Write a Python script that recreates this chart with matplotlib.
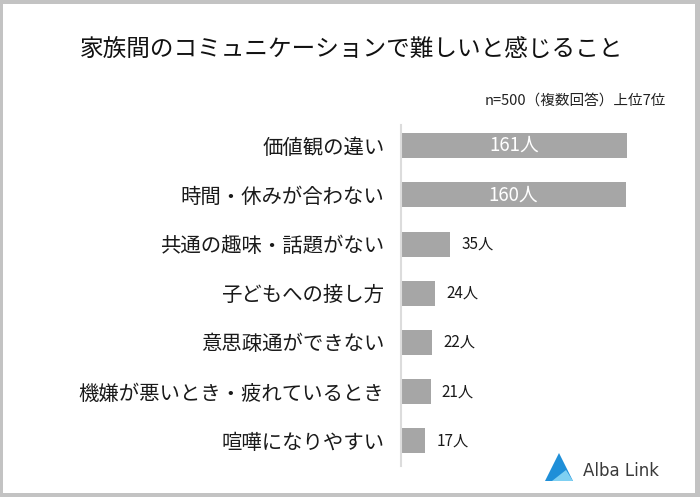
import matplotlib.pyplot as plt
from matplotlib.patches import Rectangle, Polygon

plt.rcParams['font.family'] = ['Noto Sans CJK JP', 'DejaVu Sans']

categories = ['価値観の違い', '時間・休みが合わない', '共通の趣味・話題がない', '子どもへの接し方',
              '意思疎通ができない', '機嫌が悪いとき・疲れているとき', '喧嘩になりやすい']
counts = [161, 160, 35, 24, 22, 21, 17]
title = '家族間のコミュニケーションで難しいと感じること'
note = 'n=500（複数回答）上位7位'

W, H = 700, 497
fig = plt.figure(figsize=(W / 100, H / 100), dpi=100)
fig.patch.set_facecolor('#c3c3c3')
# white card inside grey frame
fig.patches.append(Rectangle((3 / W, 4 / H), 692 / W, 489 / H, transform=fig.transFigure,
                             facecolor='white', edgecolor='none', zorder=-10))

ax = fig.add_axes([401 / W, 31 / H, 281 / W, 341 / H])
ax.set_zorder(5)
ax.set_facecolor('none')
y = list(range(len(categories)))
ax.barh(y, counts, height=0.51, color='#a6a6a6', zorder=2)
ax.set_xlim(0, 200)
ax.set_ylim(6.51, -0.42)

for s in ['top', 'right', 'bottom']:
    ax.spines[s].set_visible(False)
ax.spines['left'].set_color('#dcdcdc')
ax.spines['left'].set_linewidth(1.5)
ax.set_xticks([])
ax.set_yticks(y)
ax.set_yticklabels(categories, fontsize=14.7, color='#1a1a1a')
ax.tick_params(axis='y', length=0, pad=12)

for i, v in enumerate(counts):
    if v > 100:
        ax.text(v / 2, i, f'{v}人', ha='center', va='center', color='white', fontsize=13.5)
    else:
        ax.text(v + 8, i, f'{v}人', ha='left', va='center', color='#1a1a1a', fontsize=11)

fig.text(352 / W, 1 - 50 / H, title, ha='center', va='center', fontsize=17, color='#111111')
fig.text(666 / W, 1 - 101 / H, note, ha='right', va='center', fontsize=10.5, color='#222222')

# logo
tri = Polygon([[545 / W, 1 - 481 / H], [559 / W, 1 - 453 / H], [573 / W, 1 - 481 / H]],
              closed=True, transform=fig.transFigure, facecolor='#1f8fd8', edgecolor='none')
fig.patches.append(tri)
tri2 = Polygon([[552 / W, 1 - 481 / H], [566 / W, 1 - 470 / H], [573 / W, 1 - 481 / H]],
               closed=True, transform=fig.transFigure, facecolor='#7fd0f2', edgecolor='none')
fig.patches.append(tri2)
fig.text(583 / W, 1 - 471 / H, 'Alba Link', ha='left', va='center', fontsize=12,
         color='#3a3a3a', family=['DejaVu Sans'])

fig.savefig('out.png', dpi=100, facecolor=fig.get_facecolor())
